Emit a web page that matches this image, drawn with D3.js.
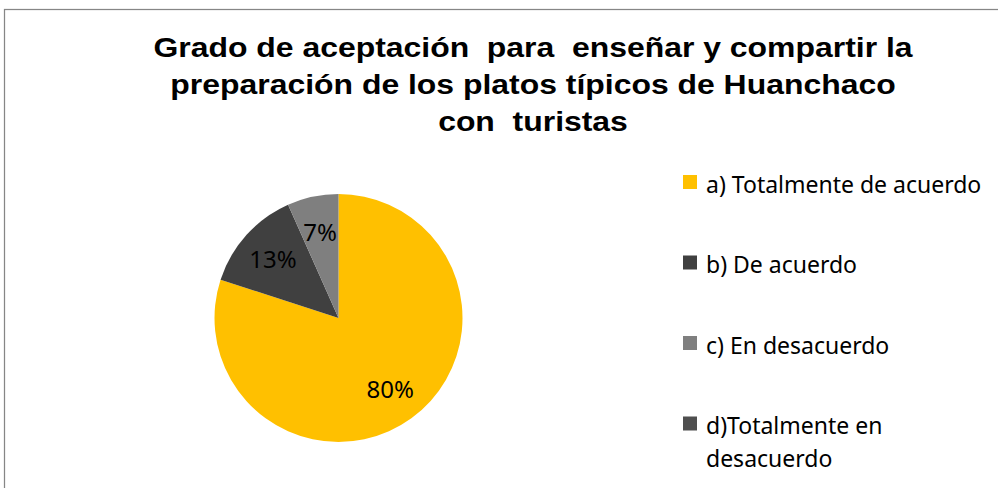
<!DOCTYPE html>
<html>
<head>
<meta charset="utf-8">
<script src="https://cdn.jsdelivr.net/npm/d3@7"></script>
<style>
  html, body { margin: 0; padding: 0; background: #fff; }
</style>
</head>
<body>
<div id="chart"></div>
<script>
// datos
const categories = ["a) Totalmente de acuerdo", "b) De acuerdo", "c) En desacuerdo", "d)Totalmente en desacuerdo"];
const counts = [12, 2, 1, 0];
const colors = ["#FFC000", "#404040", "#7F7F7F", "#4F4F4F"];
const titleLines = ["Grado de aceptación  para  enseñar y compartir la", "preparación de los platos típicos de Huanchaco", "con  turistas"];

const width = 998, height = 488;
const cx = 338.5, cy = 318, radius = 124;

const svg = d3.select("#chart").append("svg")
  .attr("width", width)
  .attr("height", height);

// borde del área del gráfico
svg.append("rect")
  .attr("x", 4.5).attr("y", 9.5)
  .attr("width", 1000).attr("height", 500)
  .attr("fill", "none")
  .attr("stroke", "#868686")
  .attr("stroke-width", 1.25);

// título (un poco ensanchado, como en la imagen)
svg.append("g")
  .selectAll("text")
  .data(titleLines)
  .join("text")
  .attr("transform", (d, i) => `translate(533,${56.5 + i * 37}) scale(1.14,1)`)
  .attr("text-anchor", "middle")
  .attr("font-family", "'Liberation Sans', Arial, sans-serif")
  .attr("font-weight", "bold")
  .attr("font-size", 28)
  .attr("fill", "#000")
  .style("white-space", "pre")
  .text(d => d);

const color = d3.scaleOrdinal().domain(categories).range(colors);

const pie = d3.pie().sort(null).value(d => d.value);
const arcs = pie(categories.map((c, i) => ({ name: c, value: counts[i] })));
const total = d3.sum(counts);

const arc = d3.arc().innerRadius(0).outerRadius(radius);
const labelArc = d3.arc().innerRadius(radius * 0.71).outerRadius(radius * 0.71);

const g = svg.append("g").attr("transform", `translate(${cx},${cy})`);

g.selectAll("path")
  .data(arcs.filter(d => d.value > 0))
  .join("path")
  .attr("fill", d => color(d.data.name))
  .attr("d", arc);

g.selectAll("text")
  .data(arcs.filter(d => d.value > 0))
  .join("text")
  .attr("transform", d => `translate(${labelArc.centroid(d)})`)
  .attr("text-anchor", "middle")
  .attr("dy", "0.36em")
  .attr("font-family", "'Noto Sans', sans-serif")
  .attr("font-size", 24)
  .attr("fill", "#000")
  .text(d => Math.round(100 * d.value / total) + "%");

// leyenda
const legend = svg.append("g").attr("transform", "translate(683,175)");
const rows = legend.selectAll("g")
  .data(categories)
  .join("g")
  .attr("transform", (d, i) => `translate(0,${i * 80.5})`);

rows.append("rect")
  .attr("width", 14).attr("height", 14)
  .attr("fill", d => color(d));

const legendText = rows.append("text")
  .attr("x", 23)
  .attr("y", 17.5)
  .attr("font-family", "'Noto Sans', sans-serif")
  .attr("font-size", 23)
  .attr("fill", "#000");

legendText.each(function(d) {
  const t = d3.select(this);
  const parts = d === "d)Totalmente en desacuerdo" ? ["d)Totalmente en", "desacuerdo"] : [d];
  parts.forEach((p, j) => {
    t.append("tspan").attr("x", 23).attr("dy", j === 0 ? 0 : 33).text(p);
  });
});
</script>
</body>
</html>
